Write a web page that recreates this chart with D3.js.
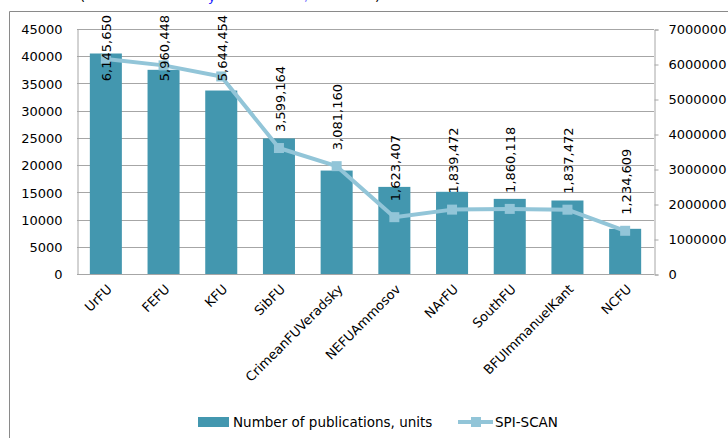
<!DOCTYPE html>
<html>
<head>
<meta charset="utf-8">
<script src="https://cdn.jsdelivr.net/npm/d3@7"></script>
<style>
  body { margin: 0; background: #fff; }
  svg { display: block; font-family: "DejaVu Sans", sans-serif; }
</style>
</head>
<body>
<script>
  const width = 728;
  const height = 438;

  const universities = ["UrFU", "FEFU", "KFU", "SibFU", "CrimeanFUVeradsky", "NEFUAmmosov",
    "NArFU", "SouthFU", "BFUImmanuelKant", "NCFU"];
  const publications = [40500, 37500, 33700, 24900, 19000, 16000, 15100, 13800, 13500, 8300];
  const spiScan = [6145650, 5960448, 5644454, 3599164, 3081160, 1623407, 1839472, 1860118, 1837472, 1234609];
  const leftTicks = [0, 5000, 10000, 15000, 20000, 25000, 30000, 35000, 40000, 45000];
  const rightTicks = [0, 1000000, 2000000, 3000000, 4000000, 5000000, 6000000, 7000000];

  const barColor = "#4397af";
  const lineColor = "#92c5d8";
  const gridColor = "#a6a6a6";

  const plot = { left: 77, right: 654, top: 29, bottom: 274 };

  const svg = d3.select("body").append("svg")
    .attr("width", width)
    .attr("height", height);

  // cut off title line at the top, only descenders visible
  const title = svg.append("text").attr("y", 1).style("font-size", "13px");
  title.append("tspan").attr("x", 80).text("(");
  title.append("tspan").attr("x", 208).attr("fill", "#1a1aff").text("y");
  title.append("tspan").attr("x", 304).attr("fill", "#8080ff").text(",");
  title.append("tspan").attr("x", 375).text(")");

  // chart frame
  svg.append("path")
    .attr("d", "M9.5," + height + "V11.5H" + width)
    .attr("fill", "none")
    .attr("stroke", "#8a8a8a");

  const x = d3.scaleBand()
    .domain(universities)
    .range([plot.left, plot.right])
    .paddingInner(0.445)
    .paddingOuter(0.2225);

  const yLeft = d3.scaleLinear().domain([0, 45000]).range([plot.bottom, plot.top]);
  const yRight = d3.scaleLinear().domain([0, 7000000]).range([plot.bottom, plot.top]);

  // gridlines
  svg.append("g")
    .selectAll("line")
    .data(leftTicks)
    .enter().append("line")
    .attr("x1", plot.left)
    .attr("x2", plot.right)
    .attr("y1", d => Math.round(yLeft(d)) + 0.5)
    .attr("y2", d => Math.round(yLeft(d)) + 0.5)
    .attr("stroke", gridColor);

  // left axis
  const leftAxis = svg.append("g")
    .attr("transform", "translate(" + (plot.left + 0.5) + ",0.5)")
    .call(d3.axisLeft(yLeft).tickValues(leftTicks).tickSize(0).tickPadding(15).tickFormat(d3.format("d")));
  leftAxis.select(".domain").attr("stroke", gridColor);
  leftAxis.selectAll("text").style("font-size", "13px").attr("fill", "#000").attr("font-family", "DejaVu Sans");

  // right axis
  const rightAxis = svg.append("g")
    .attr("transform", "translate(" + (plot.right + 0.5) + ",0.5)")
    .call(d3.axisRight(yRight).tickValues(rightTicks).tickSize(4).tickPadding(10).tickFormat(d3.format("d")));
  rightAxis.select(".domain").attr("stroke", gridColor);
  rightAxis.selectAll("line").attr("stroke", gridColor);
  rightAxis.selectAll("text").style("font-size", "13px").attr("fill", "#000").attr("font-family", "DejaVu Sans");

  // bars
  svg.append("g")
    .selectAll("rect")
    .data(universities)
    .enter().append("rect")
    .attr("x", d => x(d))
    .attr("width", x.bandwidth())
    .attr("y", (d, i) => yLeft(publications[i]))
    .attr("height", (d, i) => plot.bottom - yLeft(publications[i]))
    .attr("fill", barColor);

  // x axis baseline
  svg.append("line")
    .attr("x1", plot.left)
    .attr("x2", plot.right)
    .attr("y1", plot.bottom + 0.5)
    .attr("y2", plot.bottom + 0.5)
    .attr("stroke", gridColor);

  // category labels
  svg.append("g")
    .selectAll("text")
    .data(universities)
    .enter().append("text")
    .attr("transform", d => "translate(" + (x(d) + x.bandwidth() / 2 + 7) + "," + 290 + ") rotate(-45)")
    .attr("text-anchor", "end")
    .style("font-size", "13px")
    .text(d => d);

  // SPI-SCAN line
  const cx = d => x(d) + x.bandwidth() / 2;
  const line = d3.line()
    .x(d => cx(d))
    .y((d, i) => yRight(spiScan[i]));

  svg.append("path")
    .datum(universities)
    .attr("d", line)
    .attr("fill", "none")
    .attr("stroke", lineColor)
    .attr("stroke-width", 4)
    .attr("stroke-linejoin", "round");

  svg.append("g")
    .selectAll("rect")
    .data(universities)
    .enter().append("rect")
    .attr("x", d => cx(d) - 5)
    .attr("y", (d, i) => yRight(spiScan[i]) - 5)
    .attr("width", 10)
    .attr("height", 10)
    .attr("fill", lineColor);

  // data labels
  const fmt = d3.format(",");
  const labels = svg.append("g")
    .selectAll("text")
    .data(universities)
    .enter().append("text")
    .style("font-size", "13px")
    .attr("dy", "0.35em")
    .text((d, i) => fmt(spiScan[i]));
  labels.attr("transform", function (d, i) {
    const len = this.getComputedTextLength();
    const start = Math.max(yRight(spiScan[i]) - 16, 15 + len);
    return "translate(" + (cx(d) + 1) + "," + start + ") rotate(-90)";
  });

  // legend
  const legend = svg.append("g");
  legend.append("rect")
    .attr("x", 198)
    .attr("y", 417)
    .attr("width", 31)
    .attr("height", 10)
    .attr("fill", barColor);
  legend.append("text")
    .attr("x", 233)
    .attr("y", 427)
    .style("font-size", "13.5px")
    .text("Number of publications, units");
  legend.append("line")
    .attr("x1", 458)
    .attr("x2", 493)
    .attr("y1", 422)
    .attr("y2", 422)
    .attr("stroke", lineColor)
    .attr("stroke-width", 4);
  legend.append("rect")
    .attr("x", 471)
    .attr("y", 417)
    .attr("width", 10)
    .attr("height", 10)
    .attr("fill", lineColor);
  legend.append("text")
    .attr("x", 495)
    .attr("y", 427)
    .style("font-size", "13.5px")
    .text("SPI-SCAN");
</script>
</body>
</html>
